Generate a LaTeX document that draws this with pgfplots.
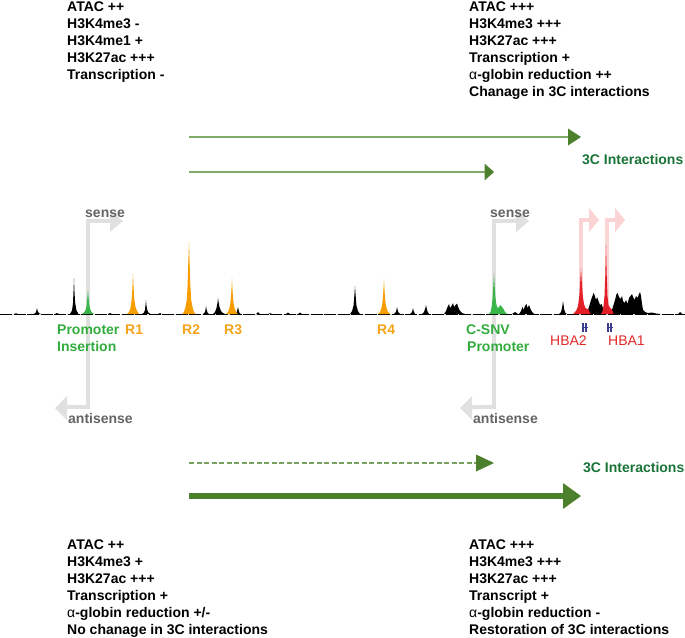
\documentclass[border=0pt]{standalone}
\usepackage{fontspec}
\setmainfont{Liberation Sans}
\usepackage{pgfplots}
\pgfplotsset{compat=1.18}
\definecolor{arrowgreen}{RGB}{76,128,44}
\definecolor{lightline}{RGB}{128,170,105}
\definecolor{ixgreen}{RGB}{25,115,55}
\definecolor{pgreen}{RGB}{57,181,74}
\definecolor{porange}{RGB}{247,157,0}
\definecolor{tgreen}{RGB}{50,172,62}
\definecolor{torange}{RGB}{245,163,25}
\definecolor{pred}{RGB}{228,30,38}
\definecolor{tred}{RGB}{225,40,40}
\definecolor{lgray}{RGB}{224,224,224}
\definecolor{tgray}{RGB}{100,100,100}
\definecolor{lpink}{RGB}{250,212,212}
\definecolor{navyg}{RGB}{60,60,140}
\newcommand\fs{\fontsize{14}{17}\selectfont}
\begin{document}
\begin{tikzpicture}[
  lbl/.style={anchor=base west, inner sep=0pt, font=\fs\bfseries},
  glbl/.style={anchor=base west, inner sep=0pt, font=\fs}]
\begin{axis}[width=685pt, height=637pt, scale only axis,
  xmin=0, xmax=685, ymin=0, ymax=637, y dir=reverse,
  hide axis, clip=false]
\coordinate (ll) at (axis cs:0,637);
\coordinate (ur) at (axis cs:685,0);
% gray sense/antisense shapes
\draw[lgray, line width=4.5pt] (111,221) -- (88,221) -- (88,407) -- (67,407);
\fill[lgray] (110,210) -- (123,221) -- (110,232) -- cycle;
\fill[lgray] (67,396) -- (55,408) -- (67,420) -- cycle;
\draw[lgray, line width=4.5pt] (517,221) -- (494,221) -- (494,407) -- (472,407);
\fill[lgray] (516,210) -- (529,221) -- (516,232) -- cycle;
\fill[lgray] (472,396) -- (460,408) -- (472,420) -- cycle;
% pink HBA arrows
\draw[lpink, line width=4pt] (590,220) -- (581,220) -- (581,314);
\fill[lpink] (589,208) -- (599,220) -- (589,232) -- cycle;
\draw[lpink, line width=4pt] (616,220) -- (607,220) -- (607,314);
\fill[lpink] (615,208) -- (625,220) -- (615,232) -- cycle;
% baseline
\addplot[black, line width=0.6pt, dash pattern=on 12pt off 1.5pt] coordinates {(0,314) (685,314)};
% black track
\addplot[fill=black, draw=none] coordinates {
(0,314) (14,314) (16,313.3) (18,314)
(33,314) (35,313.4) (36,312.2) (36.6,309.8) (37,308) (37.5,310.4) (38.2,312.2) (39.5,313.4) (41,314)
(55,314) (57,313) (59,314)
(70,314) (72,310.4) (73,303.2) (73.6,288.8) (74,278) (74.5,292.4) (75.2,303.2) (76.5,310.4) (78.5,314)
(108,314) (110,313) (112,314)
(142,314) (144,312.6) (145,309.8) (145.6,304.2) (146,300) (146.5,305.6) (147.2,309.8) (148.5,312.6) (150.5,314)
(158,314) (160,313) (162,314)
(203,314) (205,312) (205.6,309) (206,306) (206.5,309) (207.5,312.5) (209,314)
(213,314) (215,312) (216.5,308) (217.5,302.8) (218,298) (218.6,302) (219.5,307) (221,311) (223,313) (225,314)
(236,314) (237,311) (238,307) (238.6,310) (239.5,313) (241,314)
(256,314) (258,312) (260,314) (268,314) (270,313.2) (272,314)
(286,314) (288,312.5) (290,314) (298,314) (300,312.5) (302,314)
(350,314) (352,311.2) (353.5,305.6) (354.4,295) (355,286) (355.6,295) (356.5,305.6) (358,311.2) (360,314)
(394,314) (396,311.9) (397,307) (397.6,310) (398.5,312.5) (400,314)
(410,314) (412,312) (413,308) (413.6,311) (415,314)
(422,314) (424,312) (425.4,308) (426,305) (426.6,308) (427.5,311.5) (429,314)
(444,314) (446,311) (447.5,307) (449,304) (450,308) (451.5,306) (453,303) (454,307) (455.5,305) (457,303.5) (458.5,308) (460,311) (462,313) (465,314)
(512,314) (515,312) (518,314)
(519,314) (521,311) (522.5,307) (523.5,310) (525,306) (526.5,304) (527.5,308) (529,305) (530.5,309) (532,312) (534,314)
(559,314) (561,312) (562,308) (562.6,304) (563,301) (563.6,305) (564.3,310) (565.5,313) (567,314)
(586,314) (587,312) (589,307) (591,300) (592.5,296) (593.5,293) (594.5,295) (596,300) (597,297) (598.5,301) (600,305) (601.5,304) (603,308) (604,314)
(611,314) (612,310) (613.5,305) (615,300) (616.5,294) (617.5,293) (619,297) (620.5,299) (622,296) (623,301) (624.5,303) (626,300) (627.5,304) (629,298) (630.5,296) (632,294) (633,297) (634.5,300) (636,296) (637.5,298) (639,294) (640,292) (641,296) (642,304) (643,310) (645,312) (648,313) (652,312.5) (656,313.5) (660,314)
(678,314) (680,312) (682,314) (685,314)
} --cycle;
% green promoter insertion
\addplot[fill=pgreen, draw=none] coordinates {(82,314) (84,312.5) (85.5,310) (86.5,306) (87.3,298) (88,290) (88.6,298) (89.5,306) (90.5,310) (92,312.5) (94,314)} --cycle;
% orange R1-R4
\addplot[fill=porange, draw=none] coordinates {(127,314) (129,312) (130.5,308) (131.5,301) (132.3,290) (133,273) (133.6,288) (134.4,300) (135.5,307) (137,311) (139,314)} --cycle;
\addplot[fill=porange, draw=none] coordinates {(182,314) (184,312) (185.5,307) (186.8,300) (187.6,285) (188.3,262) (189,242) (189.6,262) (190.3,285) (191.2,300) (192.5,307) (194,312) (196,314)} --cycle;
\addplot[fill=porange, draw=none] coordinates {(226,314) (228,312) (229.5,308) (230.5,302) (231.3,292) (232,278) (232.6,292) (233.4,302) (234.5,308) (236,312) (238,314)} --cycle;
\addplot[fill=porange, draw=none] coordinates {(378,314) (380,312) (381.5,308) (382.5,302) (383.3,292) (384,279) (384.6,292) (385.4,302) (386.5,308) (388,312) (390,314)} --cycle;
% green C-SNV
\addplot[fill=pgreen, draw=none] coordinates {(489,314) (490.5,312) (491.8,306) (492.8,295) (493.5,282) (494,273) (494.6,285) (495.3,296) (496.3,304) (497.5,308) (499,307) (500.5,305) (502,307) (503.5,309) (505,312) (507,314)} --cycle;
% red HBA2, HBA1
\addplot[fill=pred, draw=none] coordinates {(573,314) (575,312) (576.5,310) (578,306) (579.3,296) (580.2,282) (581,268) (581.8,282) (582.8,296) (584,304) (585.5,308) (587,309) (588.5,309) (589.5,312) (590.5,314)} --cycle;
\addplot[fill=pred, draw=none] coordinates {(601,314) (602.5,311) (603.5,306) (604.5,296) (605.3,275) (606,245) (606.7,275) (607.5,296) (608.5,305) (610,308) (611.5,309) (612.5,311) (613.5,314)} --cycle;
% gene glyphs
\fill[navyg] (582.3,323) rectangle (583.8,332);
\fill[navyg] (585.3,323) rectangle (586.8,332);
\draw[navyg, line width=0.8pt] (581.5,327.5) -- (587.5,327.5);
\fill[navyg] (607.3,323) rectangle (608.8,332);
\fill[navyg] (610.3,323) rectangle (611.8,332);
\draw[navyg, line width=0.8pt] (606.5,327.5) -- (612.5,327.5);
% 3C arrows top
\draw[lightline, line width=1.8pt] (189,137) -- (569,137);
\fill[arrowgreen] (568,128.5) -- (581,137) -- (568,145.5) -- cycle;
\draw[lightline, line width=1.8pt] (189,172) -- (485,172);
\fill[arrowgreen] (484.5,163.5) -- (494,172) -- (484.5,180.5) -- cycle;
% 3C arrows bottom
\draw[lightline!80!arrowgreen, line width=1.4pt, dash pattern=on 5pt off 2.5pt] (189,463) -- (476,463);
\fill[arrowgreen] (476,454.5) -- (494,463) -- (476,471.5) -- cycle;
\draw[arrowgreen, line width=5.8pt] (189,496) -- (564,496);
\fill[arrowgreen] (563,483) -- (581,496) -- (563,509) -- cycle;
\node[lbl, text=ixgreen] at (582,164) {3C Interactions};
\node[lbl, text=ixgreen] at (583,472) {3C Interactions};
% track labels
\node[lbl, text=tgray] at (85,217) {sense};
\node[lbl, text=tgray] at (490,217) {sense};
\node[lbl, text=tgray] at (68,423) {antisense};
\node[lbl, text=tgray] at (473,423) {antisense};
\node[lbl, text=tgreen] at (57,334) {Promoter};
\node[lbl, text=tgreen] at (57,351) {Insertion};
\node[lbl, text=torange] at (125,334) {R1};
\node[lbl, text=torange] at (182,334) {R2};
\node[lbl, text=torange] at (224,334) {R3};
\node[lbl, text=torange] at (377,334) {R4};
\node[lbl, text=tgreen] at (466,334) {C-SNV};
\node[lbl, text=tgreen] at (467,351) {Promoter};
\node[glbl, text=tred] at (550,345) {HBA2};
\node[glbl, text=tred] at (608,345) {HBA1};
% top-left block
\node[lbl] at (67,11) {ATAC ++};
\node[lbl] at (67,28) {H3K4me3 -};
\node[lbl] at (67,45) {H3K4me1 +};
\node[lbl] at (67,62) {H3K27ac +++};
\node[lbl] at (67,79) {Transcription -};
% top-right block
\node[lbl] at (469,11) {ATAC +++};
\node[lbl] at (469,28) {H3K4me3 +++};
\node[lbl] at (469,45) {H3K27ac +++};
\node[lbl] at (469,62) {Transcription +};
\node[lbl] at (469,79) {{\mdseries α}-globin reduction ++};
\node[lbl] at (469,96) {Chanage in 3C interactions};
% bottom-left block
\node[lbl] at (67,549) {ATAC ++};
\node[lbl] at (67,566) {H3K4me3 +};
\node[lbl] at (67,583) {H3K27ac +++};
\node[lbl] at (67,600) {Transcription +};
\node[lbl] at (67,617) {{\mdseries α}-globin reduction +/-};
\node[lbl] at (67,634) {No chanage in 3C interactions};
% bottom-right block
\node[lbl] at (469,549) {ATAC +++};
\node[lbl] at (469,566) {H3K4me3 +++};
\node[lbl] at (469,583) {H3K27ac +++};
\node[lbl] at (469,600) {Transcript +};
\node[lbl] at (469,617) {{\mdseries α}-globin reduction -};
\node[lbl] at (469,634) {Restoration of 3C interactions};
\end{axis}
\pgfresetboundingbox
\path (ll) rectangle (ur);
\end{tikzpicture}
\end{document}
